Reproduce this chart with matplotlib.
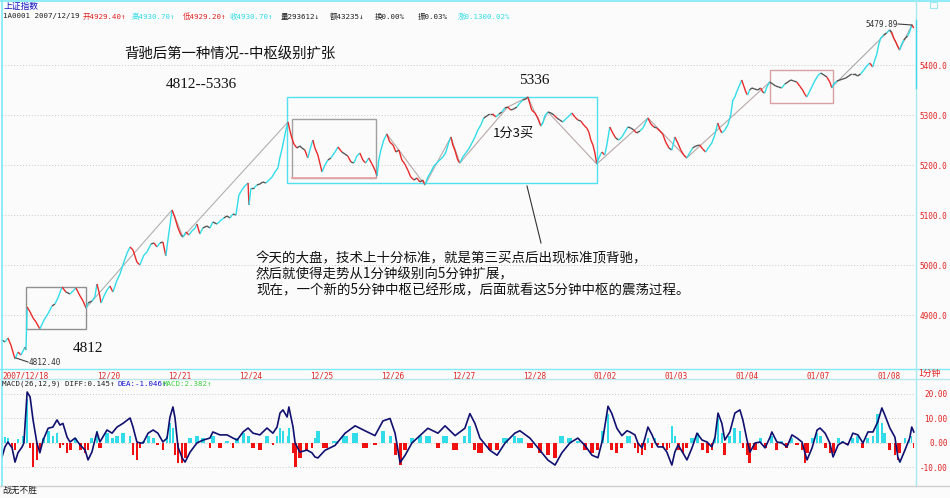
import numpy as np
import matplotlib
matplotlib.use('Agg')
import matplotlib.pyplot as plt
from matplotlib.collections import LineCollection
from matplotlib.patches import Rectangle

# ------------------------------------------------------------------ data
# time axis: 1-minute bar index (240 bars per trading day)
day_ticks = [0, 321, 561, 801, 1041, 1281, 1521, 1761, 2001, 2241, 2481, 2721, 2961]
day_labels = ['2007/12/18', '12/20', '12/21', '12/24', '12/25', '12/26', '12/27',
              '12/28', '01/02', '01/03', '01/04', '01/07', '01/08']

price_t = [0, 10, 20, 30, 41, 44, 54, 64, 78, 81,
           85, 95, 105, 115, 128, 142, 155, 169, 179, 189, 203, 216, 230, 240, 250, 264, 274, 284, 291, 304, 314,
           321, 328, 335, 345, 355, 365, 375, 389, 399, 412, 423, 433, 443, 456, 466, 480, 490, 504, 514, 524, 534, 544, 554, 561, 568, 575,
           585, 595, 605, 612, 622, 632, 642, 653, 659, 669, 679, 693, 703, 713, 727, 737, 750, 761, 771, 781, 791,
           801, 811, 821, 832, 835, 842, 852, 862, 872, 882, 892, 903, 913, 923, 933, 940, 946, 953, 960, 967,
           973, 980, 987, 997, 1007, 1014, 1024, 1034, 1041, 1051, 1058, 1068, 1082, 1092, 1102, 1112, 1126, 1136, 1149, 1159, 1169, 1180, 1190, 1200, 1210, 1220, 1230, 1240, 1251, 1261, 1268,
           1274, 1281, 1291, 1301, 1311, 1322, 1332, 1342, 1352, 1362, 1372, 1382, 1393, 1403, 1413, 1423, 1430, 1440, 1450, 1460, 1470, 1480, 1491, 1501, 1511, 1518,
           1524, 1531, 1541, 1548, 1558, 1568, 1578, 1589, 1599, 1609, 1619, 1629, 1639, 1649, 1659, 1670, 1680, 1690, 1700, 1710, 1720, 1730, 1741, 1751,
           1761, 1771, 1778, 1785, 1791, 1802, 1812, 1822, 1829, 1835, 1846, 1856, 1866, 1876, 1886, 1896, 1906, 1917, 1927, 1937, 1947, 1957, 1967, 1977, 1984, 1991, 1998,
           2004, 2011, 2018, 2028, 2038, 2045, 2055, 2065, 2075, 2085, 2096, 2106, 2116, 2126, 2136, 2146, 2157, 2167, 2177, 2184, 2194, 2204, 2214, 2224, 2234,
           2244, 2255, 2265, 2275, 2285, 2295, 2305, 2315, 2325, 2335, 2346, 2359, 2369, 2379, 2390, 2400, 2410, 2420, 2427, 2434, 2444, 2454, 2464, 2471,
           2478, 2484, 2494, 2501, 2508, 2515, 2521, 2528, 2535, 2545, 2555, 2565, 2572, 2579, 2586, 2596, 2606, 2616, 2626, 2636, 2647, 2657, 2667, 2677, 2687, 2697, 2707,
           2714, 2721, 2728, 2738, 2748, 2758, 2768, 2779, 2789, 2799, 2806, 2812, 2823, 2833, 2843, 2853, 2863, 2873, 2883, 2893, 2903, 2914, 2924, 2934, 2944, 2951,
           2958, 2964, 2971, 2981, 2991, 3001, 3008, 3015, 3022, 3028, 3035, 3042, 3049, 3055, 3062, 3069, 3076, 3083]

price = [4850, 4846, 4854, 4840, 4818, 4812, 4826, 4820, 4836, 4830,
         4916, 4906, 4894, 4886, 4872, 4890, 4902, 4918, 4922, 4934, 4956, 4946, 4942, 4948, 4954, 4938, 4928, 4914, 4924, 4928, 4936,
         4962, 4946, 4924, 4938, 4950, 4958, 4946, 4970, 4982, 5006, 5024, 5036, 5030, 5006, 5000, 5020, 5026, 5042, 5044, 5036, 5044, 5046, 5018, 5050, 5080, 5110,
         5094, 5074, 5060, 5056, 5066, 5060, 5068, 5074, 5082, 5062, 5074, 5078, 5074, 5086, 5082, 5088, 5094, 5098, 5094, 5102, 5100,
         5140, 5150, 5158, 5164, 5120, 5154, 5154, 5160, 5162, 5166, 5164, 5170, 5176, 5186, 5194, 5216, 5230, 5250, 5270, 5286,
         5270, 5254, 5242, 5234, 5238, 5234, 5230, 5214, 5230, 5250, 5234, 5220, 5186, 5200, 5210, 5214, 5226, 5236, 5226, 5222, 5218, 5206, 5204, 5218, 5224, 5210, 5204, 5214, 5202, 5190, 5178,
         5210, 5230, 5250, 5262, 5246, 5240, 5226, 5230, 5210, 5202, 5190, 5176, 5170, 5174, 5166, 5170, 5160, 5176, 5186, 5198, 5204, 5210, 5216, 5226, 5246, 5256,
         5240, 5230, 5210, 5204, 5216, 5224, 5232, 5244, 5256, 5270, 5280, 5294, 5298, 5302, 5302, 5296, 5302, 5306, 5314, 5316, 5310, 5312, 5316, 5324,
         5330, 5332, 5336, 5322, 5310, 5304, 5294, 5278, 5284, 5298, 5306, 5304, 5300, 5294, 5290, 5286, 5292, 5298, 5304, 5296, 5290, 5288, 5280, 5274, 5266, 5250, 5240,
         5226, 5202, 5214, 5226, 5220, 5240, 5276, 5264, 5254, 5250, 5256, 5266, 5276, 5274, 5270, 5264, 5268, 5274, 5286, 5294, 5282, 5276, 5274, 5268, 5262,
         5246, 5234, 5230, 5256, 5244, 5230, 5220, 5214, 5224, 5234, 5238, 5240, 5232, 5226, 5236, 5244, 5260, 5284, 5272, 5264, 5270, 5280, 5300, 5330,
         5336, 5346, 5360, 5370, 5358, 5346, 5340, 5350, 5354, 5352, 5350, 5354, 5346, 5344, 5356, 5366, 5362, 5358, 5356, 5354, 5362, 5366, 5370, 5368, 5366, 5358, 5350,
         5342, 5336, 5344, 5356, 5368, 5378, 5384, 5380, 5376, 5366, 5354, 5362, 5368, 5370, 5372, 5374, 5378, 5382, 5382, 5378, 5382, 5390, 5398, 5404, 5396, 5410,
         5422, 5440, 5454, 5460, 5464, 5470, 5466, 5454, 5446, 5438, 5430, 5442, 5450, 5454, 5458, 5466, 5480, 5474]

price_grid = [4900, 5000, 5100, 5200, 5300, 5400]

# zig-zag trend lines (bar, price)
trend1_t = [284, 575, 612, 967]
trend1_p = [4914, 5110, 5056, 5286]
trend2_t = [1301, 1430, 1518, 1548, 1710, 1778, 1822, 1846, 2011, 2184, 2315, 2596]
trend2_p = [5262, 5160, 5256, 5204, 5316, 5336, 5278, 5306, 5202, 5294, 5214, 5366]
trend3_t = [2806, 3001, 3035, 3076]
trend3_p = [5356, 5470, 5430, 5480]

# boxes (zhongshu): start bar, end bar, low, high
box_t0 = [81, 980, 964, 2597]
box_t1 = [284, 1265, 2012, 2810]
box_lo = [4872, 5174, 5164, 5324]
box_hi = [4956, 5292, 5336, 5390]

# MACD
macd_t = [0, 10, 20, 34, 44, 54, 68, 74, 85, 95, 105, 118, 128, 139, 156, 172, 186, 196, 206, 220,
          230, 247, 264, 281, 291, 304, 321, 331, 355, 372, 389, 409, 433, 443, 456, 467, 477, 494, 511, 527,
          544, 558, 568, 578, 585, 595, 609, 619, 636, 659, 680, 703, 713, 737, 761, 781, 795, 815, 832, 849,
          872, 896, 916, 930, 940, 950, 964, 970, 984, 991, 1007, 1031, 1048, 1058, 1068,
          1092, 1126, 1160, 1194, 1227, 1261, 1288, 1312, 1329, 1346, 1363, 1386, 1413, 1440, 1474, 1498, 1532, 1565, 1582, 1599,
          1616, 1650, 1674, 1701, 1734, 1751, 1785, 1819, 1846, 1870, 1893, 1920, 1947, 1971, 1995, 2015, 2032, 2049, 2062, 2079,
          2096, 2113,
          2123, 2140, 2150, 2164, 2174, 2184, 2198, 2208, 2218, 2235, 2248, 2258, 2265, 2275, 2286, 2302, 2316, 2333, 2350, 2367,
          2384, 2400, 2411, 2421, 2434, 2444, 2461, 2478, 2495, 2505, 2519, 2529, 2546, 2563, 2580, 2597, 2603, 2620, 2637, 2654,
          2671, 2688, 2705, 2715, 2722, 2739, 2756, 2766, 2783, 2799, 2810, 2827, 2843, 2860, 2877, 2894, 2911, 2928, 2945, 2961,
          2975, 2985, 3002, 3019, 3029, 3036, 3053, 3069, 3076, 3083]

diff = [-5.7, -1.6, 0.4, -2, -7.8, -4, -1.6, 0, 20.8, 18.8, 9.4, 0, -4, 1.2, 6, 6.5, 9.4, 7.3, 8, 2.4,
        0.4, 2, -0.8, -2.9, -6.9, -3.7, 4.5, 0.4, 5.3, 4, 6.5, 8, 10.2, 6.5, 0.4, 0, 0, 4, 5.3, 4,
        0.4, 2, 10.6, 14.7, 10.2, -1.6, -6.1, -7.8, -3.7, 0, 1.2, 2, 4.5, 3.3, 3.3, 2, 1.2, 4.5, 6.1, 4,
        3.3, 6.1, 4, 6.5, 12.2, 13.5, 10.6, 14.7, 6.5, 0, -3.7, -2.9, -4, -5.7, -6.1,
        -3, -1, 4, 7, 5, 3, 9, 10, 4, -8, -5, 0, 3, 6, 4, 7, 3, 6, 12, 8,
        2, -3, -5, 0, 4, 5, 2, -3, -7, -9, -4, 0, 2, -1, -5, -6, 2, 15, 12, 6,
        3, 5,
        4.5, 3.3, 0, -2, 2, 6.5, 3.3, 0.4, -1.6, -1.6, -3.7, -6.9, -9, -3.7, -0.8, -4, -6.9, -2, 4, 1.2,
        0.4, -1.6, 2.4, 12.2, 8, 1.2, 4.5, 12.2, 13.5, 9.4, 1.2, -3.7, 0, 0.4, -2, 2.4, 4.5, 0.4, 0, -1.6,
        3.3, 2, 0.4, -4, -6.9, -2, 5.3, 6.1, 4, 0, -5.7, -0.8, 0.4, -0.8, 4, 3.3, 0, 4.5, 4.5, 8.6,
        14.3, 11.4, 6.1, 2.4, -5.7, -7.8, -2.9, 2, 6.5, 4.5]

hist = [2.4, 2.5, 2, -2, -3, 1.5, 3, 3, 18, -2, -10, -7, -3, 2, 5, 3, 4, -2, -1, -4,
        -3, 2, -3, -4, -3, 2, 5, -2, 4, 2, 3, 4, 3, -5, -7, -2, 1, 3, 2, -1,
        -3, 3, 8, 6, -5, -8, -8, -6, 2, 3, 2, -2, 3, -2, 1, -2, 2, 4, 3, -2,
        -3, 3, -1, 3, 6, 5, 3, 6, -4, -10, -6, -3, -2, 2, 5,
        -2, 1, 3, 4, -2, -1, 5, 3, -5, -9, -3, 2, 3, 3, -2, 3, -3, 3, 7, -3,
        -4, -3, -3, 2, 3, 2, -2, -4, -5, -6, 3, 2, 1, -3, -4, -3, 5, 12, -3, -4,
        -2, 3,
        3, -2, -4, -5, -3, 2, -2, 2, -1, -2, -3, -2, 7, 3, -3, -4, -2, 2, 4, -3,
        -4, -3, 2, 10, 4, -5, 3, 6, 5, -2, -5, -8, -3, 2, -2, 2, 3, -3, 1, -2,
        2, -1, -3, -8, -4, 2, 4, 3, -2, -4, -4, 2, 1, -1, 2, 3, -2, 2, 3, 12,
        8, 4, -3, -5, -7, -4, 2, 3, 3, -2]

macd_grid = [20, 10, 0, -10]

# ------------------------------------------------------------------ figure
W, H = 950, 498
fig = plt.figure(figsize=(W / 100, H / 100), dpi=100)
fig.patch.set_facecolor('#fbfbfb')


def prect(x0, y0, x1, y1):
    return [x0 / W, 1 - y1 / H, (x1 - x0) / W, (y1 - y0) / H]


MONO = ['DejaVu Sans Mono', 'Noto Sans CJK SC']
CJK = ['Noto Sans CJK SC', 'DejaVu Sans']
SERIF = ['Liberation Serif', 'Noto Sans CJK SC']
RED = '#e02020'
CYAN = '#30dce8'

# ---- price panel
ax = fig.add_axes(prect(2, 3, 915, 368))
ax.set_facecolor('none')
ax.set_xlim(0, 3087)
ax.set_ylim(4794, 5524)
for s in ax.spines.values():
    s.set_visible(False)
for g in price_grid:
    ax.axhline(g, color='#c8c8c8', lw=0.7, ls=(0, (1, 2)), zorder=0)

pt = np.array(price_t, dtype=float)
pp = np.array(price, dtype=float)
segs = np.stack([np.column_stack([pt[:-1], pp[:-1]]), np.column_stack([pt[1:], pp[1:]])], axis=1)
d = np.diff(pp)
cols = [CYAN if v > 4 else ('#e82a2a' if v < -4 else '#555555') for v in d]
ax.add_collection(LineCollection(segs, colors=cols, linewidths=1.0, zorder=3))

ax.plot(trend1_t, trend1_p, color='#b0b0b0', lw=0.8, zorder=2)
ax.plot(trend2_t, trend2_p, color='#b8a8a8', lw=0.8, zorder=2)
ax.plot(trend3_t, trend3_p, color='#a8a8a8', lw=0.8, zorder=2)

box_cols = ['#909090', '#a0a0a0', '#50e0f0', '#d8a0a0']
for t0, t1, lo, hi, c in zip(box_t0, box_t1, box_lo, box_hi, box_cols):
    ax.add_patch(Rectangle((t0, lo), t1 - t0, hi - lo, fill=False, ec=c, lw=1.0, zorder=2))
# pink bottom edge of second box
ax.plot([box_t0[1], box_t1[1]], [box_lo[1], box_lo[1]], color='#f0a0a0', lw=1.2, zorder=2)

ax.yaxis.tick_right()
ax.set_yticks(price_grid)
ax.set_yticklabels([f'{v:.1f}' for v in price_grid], color=RED, fontsize=5.5, family=MONO)
ax.tick_params(axis='y', length=0, pad=3.5)
ax.set_xticks(day_ticks)
ax.set_xticklabels(day_labels, color=RED, fontsize=5.6, family=MONO)
for lab in ax.get_xticklabels():
    lab.set_ha('left')
ax.tick_params(axis='x', length=0, pad=2.5)

# ---- MACD panel
ax2 = fig.add_axes(prect(2, 380, 915, 486))
ax2.set_facecolor('none')
ax2.set_xlim(0, 3087)
ax2.set_ylim(-17.55, 25.7)
for s in ax2.spines.values():
    s.set_visible(False)
for g in macd_grid:
    ax2.axhline(g, color='#c8c8c8', lw=0.7, ls=(0, (1, 2)), zorder=0)
mt = np.array(macd_t, dtype=float)
mh = np.array(hist, dtype=float)
widths = np.append(np.diff(mt), 7) * 0.6
ax2.bar(mt, mh, width=widths, color=[CYAN if v > 0 else '#f01010' for v in mh],
        linewidth=0, zorder=1)
ax2.plot(macd_t, diff, color='#101070', lw=1.2, zorder=3)
ax2.yaxis.tick_right()
ax2.set_yticks(macd_grid)
ax2.set_yticklabels([f'{v:.2f}' for v in macd_grid], color=RED, fontsize=5.5, family=MONO)
for lab in ax2.get_yticklabels():
    lab.set_ha('right')
ax2.tick_params(axis='y', length=0, pad=23.5)
ax2.set_xticks([])

# ---- overlay (frame + annotations, pixel coordinates)
ov = fig.add_axes([0, 0, 1, 1], zorder=10)
ov.set_xlim(0, W)
ov.set_ylim(H, 0)
ov.axis('off')

fc = '#7eeaf4'
ov.plot([0, W], [1, 1], color=fc, lw=1.2)
ov.plot([1.5, 1.5], [0, 486], color=fc, lw=1.2)
ov.plot([0, W], [368.5, 368.5], color=fc, lw=1.0)
ov.plot([0, W], [378.5, 378.5], color='#b8e8ee', lw=1.0)
ov.plot([915.5, 915.5], [0, 486], color='#a8eaf2', lw=1.0)
ov.plot([0, W], [486, 486], color='#d0d0d0', lw=1.0)
ov.plot([916, 916], [20, 88], color='#40d8e8', lw=1.0)
ov.add_patch(Rectangle((930, 2), 7, 6, fill=False, ec='#a0e8f0', lw=0.8))

# header
ov.text(3, 6, '上证指数', color='#1010c0', fontsize=6.3, family=CJK, va='center')
hdr = [(3, '1A0001 2007/12/19', '#202020'), (83, '开4929.40↑', RED), (132, '高4930.70↑', CYAN),
       (183, '低4929.20↑', RED), (230, '收4930.70↑', CYAN), (281, '量293612↓', '#202020'),
       (330, '额43235↓', '#202020'), (375, '换0.00%', '#202020'), (418, '振0.03%', '#202020'),
       (458, '涨0.1300.02%', CYAN)]
for x, s, c in hdr:
    ov.text(x, 16, s, color=c, fontsize=5.4, family=MONO, va='center')

macd_hdr = [(2, 'MACD(26,12,9) DIFF:0.145↑', '#202020'), (117, 'DEA:-1.046↑', '#1010d0'),
            (163, 'MACD:2.382↑', '#40d040')]
for x, s, c in macd_hdr:
    ov.text(x, 384, s, color=c, fontsize=5.4, family=MONO, va='center')
ov.text(2, 490, '战无不胜', color='#202020', fontsize=6.3, family=CJK, va='center')
ov.text(918, 373, '1分钟', color=RED, fontsize=6.3, family=CJK, va='center')

# annotations
ov.text(124, 54, '背驰后第一种情况--中枢级别扩张', color='#111111', fontsize=10.4, family=CJK, va='center')
ov.text(166, 84, '4812--5336', color='#111111', fontsize=11, family=SERIF, va='center')
ov.text(519, 80, '5336', color='#111111', fontsize=11, family=SERIF, va='center')
ov.text(73, 348, '4812', color='#111111', fontsize=11, family=SERIF, va='center')
ov.text(493, 133, '1分3买', color='#111111', fontsize=9.5, family=CJK, va='center')
para = ['今天的大盘，技术上十分标准，就是第三买点后出现标准顶背驰，',
        '然后就使得走势从1分钟级别向5分钟扩展，',
        '现在，一个新的5分钟中枢已经形成，后面就看这5分钟中枢的震荡过程。']
for i, s in enumerate(para):
    ov.text(256, 258 + 16 * i, s, color='#111111', fontsize=9.7, family=CJK, va='center')
ov.plot([527, 541], [186, 243], color='#333333', lw=0.8)

ov.text(29, 362, '4812.40', color='#303030', fontsize=5.6, family=MONO, va='center')
ov.plot([16, 28], [358, 362], color='#404040', lw=0.8)
ov.text(865, 24, '5479.89', color='#303030', fontsize=5.6, family=MONO, va='center')
ov.plot([898, 912], [24, 25], color='#404040', lw=0.8)

fig.savefig('out.png', dpi=100, facecolor=fig.get_facecolor())
